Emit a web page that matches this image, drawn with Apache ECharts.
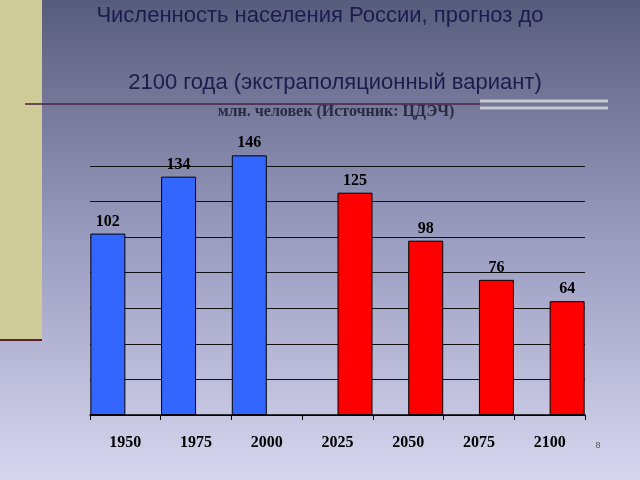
<!DOCTYPE html>
<html><head><meta charset="utf-8">
<script src="https://cdn.jsdelivr.net/npm/echarts@6/dist/echarts.min.js"></script>
<style>html,body{margin:0;padding:0}#c{width:640px;height:480px}</style>
</head><body><div id="c"></div>
<script>
const categories = ['1950','1975','2000','2025','2050','2075','2100'];
const actual = [102, 134, 146, null, null, null, null];
const forecast = [null, null, null, 125, 98, 76, 64];
const chart = echarts.init(document.getElementById('c'));
const lbl = {show:true, position:'top', fontFamily:'Liberation Serif', fontWeight:'bold', fontSize:16, color:'#000', distance:4};
chart.setOption({
  backgroundColor: {type:'linear', x:0, y:0, x2:0, y2:1, colorStops:[{offset:0,color:'#585c7c'},{offset:0.5,color:'#9a9cc0'},{offset:1,color:'#d6d6ee'}]},
  graphic: [
    {type:'rect', shape:{x:0,y:0,width:42,height:340}, style:{fill:'#cfcc99'}},
    {type:'line', shape:{x1:0,y1:340,x2:42,y2:340}, style:{stroke:'#5a2030',lineWidth:2}},
    {type:'line', shape:{x1:25,y1:104,x2:480,y2:104}, style:{stroke:'#4a2040',lineWidth:1.5}},
    {type:'line', shape:{x1:480,y1:101,x2:608,y2:101}, style:{stroke:'#c8c8d0',lineWidth:3}},
    {type:'line', shape:{x1:480,y1:108,x2:608,y2:108}, style:{stroke:'#c8c8d0',lineWidth:3}},
    {type:'text', left:'center', x:338, style:{x:338,y:16,text:'Численность населения России, прогноз до',fontSize:22,fontFamily:'Liberation Sans',fill:'#1c1c4c',textAlign:'center',textVerticalAlign:'middle'}},
    {type:'text', style:{x:335,y:83,text:'2100 года (экстраполяционный вариант)',fontSize:22,fontFamily:'Liberation Sans',fill:'#1c1c4c',textAlign:'center',textVerticalAlign:'middle'}},
    {type:'text', style:{x:336,y:112,text:'млн. человек (Источник: ЦДЭЧ)',fontSize:16,fontWeight:'bold',fontFamily:'Liberation Serif',fill:'#2a2a40',textAlign:'center',textVerticalAlign:'middle'}},
    {type:'text', style:{x:598,y:446,text:'8',fontSize:9,fontFamily:'Liberation Sans',fill:'#555',textAlign:'center',textVerticalAlign:'middle'}}
  ],
  grid: {left:90, right:55, top:166, bottom:65},
  xAxis: {type:'category', data:categories, axisLine:{lineStyle:{color:'#000',width:1.5}}, axisTick:{show:true, length:5, lineStyle:{color:'#000'}},
    axisLabel:{fontFamily:'Liberation Serif', fontWeight:'bold', fontSize:16, color:'#000', margin:20}},
  yAxis: {type:'value', min:0, max:140, interval:20, axisLabel:{show:false}, axisLine:{show:false}, axisTick:{show:false},
    splitLine:{lineStyle:{color:'#111', width:1}}},
  series: [
    {type:'bar', data:actual, barWidth:35, barGap:'0%', barCategoryGap:'0%', clip:false, label:lbl,
     itemStyle:{color:'#3366ff', borderColor:'#000', borderWidth:1}},
    {type:'bar', data:forecast, barWidth:35, clip:false, label:lbl,
     itemStyle:{color:'#ff0000', borderColor:'#000', borderWidth:1}}
  ]
});
</script></body></html>
